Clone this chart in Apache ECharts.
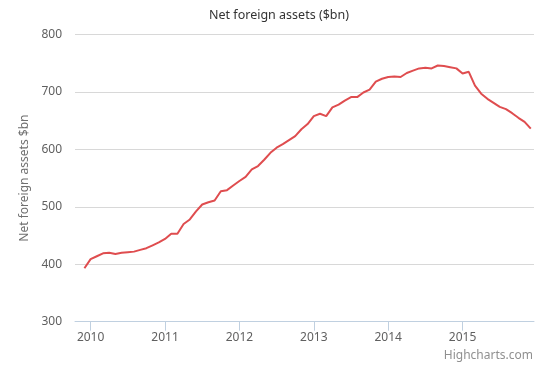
<!DOCTYPE html>
<html>
<head>
<meta charset="utf-8">
<script src="https://cdn.jsdelivr.net/npm/echarts@6/dist/echarts.min.js"></script>
<style>html,body{margin:0;padding:0;background:#fff}#c{width:558px;height:379px}</style>
</head>
<body>
<div id="c"></div>
<script>
const months = [
  '2009-12',
  '2010-01','2010-02','2010-03','2010-04','2010-05','2010-06','2010-07','2010-08','2010-09','2010-10','2010-11','2010-12',
  '2011-01','2011-02','2011-03','2011-04','2011-05','2011-06','2011-07','2011-08','2011-09','2011-10','2011-11','2011-12',
  '2012-01','2012-02','2012-03','2012-04','2012-05','2012-06','2012-07','2012-08','2012-09','2012-10','2012-11','2012-12',
  '2013-01','2013-02','2013-03','2013-04','2013-05','2013-06','2013-07','2013-08','2013-09','2013-10','2013-11','2013-12',
  '2014-01','2014-02','2014-03','2014-04','2014-05','2014-06','2014-07','2014-08','2014-09','2014-10','2014-11','2014-12',
  '2015-01','2015-02','2015-03','2015-04','2015-05','2015-06','2015-07','2015-08','2015-09','2015-10','2015-11','2015-12'
];
const netForeignAssets = [
  393,
  409,414,419,420,418,420,421,422,425,428,433,438,
  444,453,453,470,478,492,504,508,511,527,529,537,
  545,552,565,571,582,594,603,609,616,623,635,644,
  658,662,658,673,678,685,691,691,699,704,718,723,
  726,727,726,733,737,741,742,741,746,745,743,741,
  732,735,711,697,688,681,674,670,663,655,648,636
];
const yearTicks = [2010, 2011, 2012, 2013, 2014, 2015];
const yTicks = [300, 400, 500, 600, 700, 800];

const FONT = 'Noto Sans';
const xNum = months.map(s => {
  const [y, m] = s.split('-').map(Number);
  return y + (m - 1) / 12;
});
const seriesData = xNum.map((x, i) => [x, netForeignAssets[i]]);

const chart = echarts.init(document.getElementById('c'), null, {renderer: 'canvas'});
chart.setOption({
  animation: false,
  backgroundColor: '#ffffff',
  textStyle: {fontFamily: FONT},
  title: {
    text: 'Net foreign assets ($bn)',
    left: 'center',
    top: 4,
    textStyle: {fontFamily: FONT, fontSize: 12.5, fontWeight: 'normal', color: '#333333'}
  },
  grid: {left: 75, right: 24, top: 34.5, bottom: 57.3, containLabel: false},
  xAxis: {
    type: 'value',
    min: 2009.79,
    max: 2015.96,
    axisLine: {show: true, lineStyle: {color: '#C0D0E0', width: 1}},
    axisTick: {show: true, customValues: yearTicks, length: 9, lineStyle: {color: '#C0D0E0'}},
    axisLabel: {
      customValues: yearTicks,
      formatter: v => String(Math.round(v)),
      color: '#606060', fontSize: 12, fontFamily: FONT, margin: 10
    },
    splitLine: {show: false}
  },
  yAxis: {
    type: 'value',
    min: yTicks[0],
    max: yTicks[yTicks.length - 1],
    interval: 100,
    name: 'Net foreign assets $bn',
    nameLocation: 'middle',
    nameRotate: 90,
    nameGap: 39,
    nameTextStyle: {color: '#707070', fontSize: 12, fontFamily: FONT},
    axisLine: {show: false},
    axisTick: {show: false},
    axisLabel: {color: '#606060', fontSize: 12, fontFamily: FONT, margin: 13},
    splitLine: {show: true, lineStyle: {color: '#D8D8D8', width: 1}}
  },
  series: [{
    type: 'line',
    data: seriesData,
    showSymbol: false,
    symbol: 'none',
    lineStyle: {color: '#DF4D4F', width: 2},
    itemStyle: {color: '#DF4D4F'}
  }],
  graphic: [{
    type: 'text',
    right: 25,
    top: 350,
    style: {text: 'Highcharts.com', fill: '#909090', font: '12px "Noto Sans"'}
  }]
});
</script>
</body>
</html>
